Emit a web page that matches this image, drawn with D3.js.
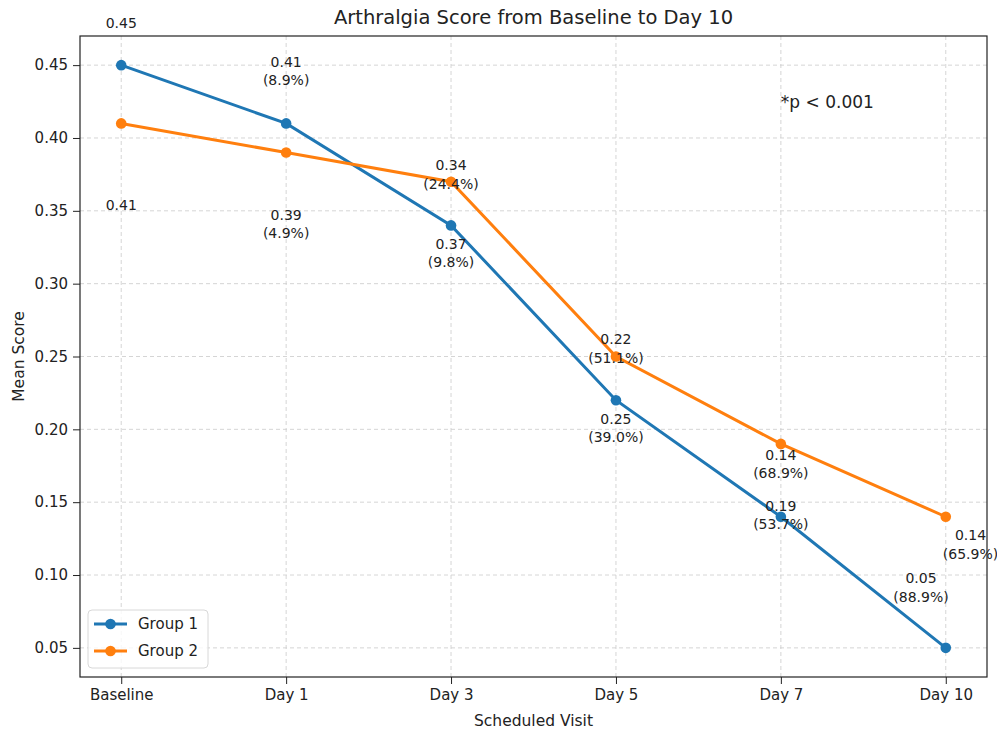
<!DOCTYPE html>
<html>
<head>
<meta charset="utf-8">
<script src="https://cdn.jsdelivr.net/npm/d3@7"></script>
<style>
  body { margin: 0; background: #fff; }
  svg { display: block; font-family: "DejaVu Sans", sans-serif; }
</style>
</head>
<body>
<div id="chart"></div>
<script>
const visits = ["Baseline", "Day 1", "Day 3", "Day 5", "Day 7", "Day 10"];
const group1 = [0.45, 0.41, 0.34, 0.22, 0.14, 0.05];
const group2 = [0.41, 0.39, 0.37, 0.25, 0.19, 0.14];
const yTicks = [0.05, 0.10, 0.15, 0.20, 0.25, 0.30, 0.35, 0.40, 0.45];

// annotation text and where it sits, in data units (visit index, score)
const labelText = ["0.45", "0.41", "0.41\n(8.9%)", "0.39\n(4.9%)", "0.34\n(24.4%)", "0.37\n(9.8%)",
  "0.22\n(51.1%)", "0.25\n(39.0%)", "0.14\n(68.9%)", "0.19\n(53.7%)", "0.14\n(65.9%)", "0.05\n(88.9%)"];
const labelX = [0, 0, 1, 1, 2, 2, 3, 3, 4, 4, 5.15, 4.85];
const labelY = [0.479, 0.354, 0.446, 0.341, 0.375, 0.321, 0.2555, 0.201, 0.176, 0.141, 0.121, 0.0915];

const width = 997, height = 733;
const margin = {top: 36, right: 10, bottom: 56, left: 80};

const svg = d3.select("#chart").append("svg")
  .attr("width", width)
  .attr("height", height);

const x = d3.scaleLinear().domain([-0.25, visits.length - 0.75]).range([margin.left, width - margin.right]);
const yExt = d3.extent(group1.concat(group2));
const pad = (yExt[1] - yExt[0]) * 0.05;
const y = d3.scaleLinear().domain([yExt[0] - pad, yExt[1] + pad]).range([height - margin.bottom, margin.top]);

const colors = ["#1f77b4", "#ff7f0e"];

// grid
svg.append("g").selectAll("line").data(yTicks).enter().append("line")
  .attr("x1", margin.left).attr("x2", width - margin.right)
  .attr("y1", d => y(d)).attr("y2", d => y(d))
  .attr("stroke", "#d0d0d0").attr("stroke-dasharray", "4,3").attr("stroke-width", 0.9);
svg.append("g").selectAll("line").data(d3.range(visits.length)).enter().append("line")
  .attr("y1", margin.top).attr("y2", height - margin.bottom)
  .attr("x1", d => x(d)).attr("x2", d => x(d))
  .attr("stroke", "#d0d0d0").attr("stroke-dasharray", "4,3").attr("stroke-width", 0.9);

// axes
const xAxis = svg.append("g")
  .attr("transform", "translate(0," + (height - margin.bottom) + ")")
  .call(d3.axisBottom(x).tickValues(d3.range(visits.length)).tickFormat(i => visits[i]).tickSize(7).tickPadding(5));
const yAxis = svg.append("g")
  .attr("transform", "translate(" + margin.left + ",0)")
  .call(d3.axisLeft(y).tickValues(yTicks).tickFormat(d3.format(".2f")).tickSize(7).tickPadding(5));
[xAxis, yAxis].forEach(a => {
  a.select(".domain").remove();
  a.selectAll("text").attr("font-size", 15).attr("fill", "#222").attr("font-family", "DejaVu Sans");
  a.selectAll("line").attr("stroke", "#222");
});

svg.append("rect")
  .attr("x", margin.left).attr("y", margin.top)
  .attr("width", width - margin.left - margin.right)
  .attr("height", height - margin.top - margin.bottom)
  .attr("fill", "none").attr("stroke", "#222").attr("stroke-width", 1.2);

// lines
const line = d3.line().x((d, i) => x(i)).y(d => y(d));
[group1, group2].forEach((series, k) => {
  svg.append("path").datum(series)
    .attr("d", line)
    .attr("fill", "none")
    .attr("stroke", colors[k])
    .attr("stroke-width", 3);
  svg.append("g").selectAll("circle").data(series).enter().append("circle")
    .attr("cx", (d, i) => x(i)).attr("cy", d => y(d))
    .attr("r", 5.3).attr("fill", colors[k]);
});

// annotations
labelText.forEach((t, i) => {
  const lines = t.split("\n");
  const lh = 18.5;
  const txt = svg.append("text")
    .attr("text-anchor", "middle")
    .attr("font-size", 14)
    .attr("fill", "#222");
  lines.forEach((l, j) => {
    txt.append("tspan")
      .attr("x", x(labelX[i]))
      .attr("y", y(labelY[i]) + (j - (lines.length - 1) / 2) * lh)
      .attr("dy", "0.35em")
      .text(l);
  });
});

svg.append("text")
  .attr("x", x(4)).attr("y", y(0.425))
  .attr("dy", "0.35em")
  .attr("font-size", 17)
  .attr("fill", "#222")
  .text("*p < 0.001");

// title and axis labels
svg.append("text")
  .attr("x", (margin.left + width - margin.right) / 2).attr("y", 24)
  .attr("text-anchor", "middle").attr("font-size", 19.5).attr("fill", "#222")
  .text("Arthralgia Score from Baseline to Day 10");
svg.append("text")
  .attr("x", (margin.left + width - margin.right) / 2).attr("y", 726)
  .attr("text-anchor", "middle").attr("font-size", 15.5).attr("fill", "#222")
  .text("Scheduled Visit");
svg.append("text")
  .attr("transform", "translate(24," + (margin.top + height - margin.bottom) / 2 + ") rotate(-90)")
  .attr("text-anchor", "middle").attr("font-size", 15.5).attr("fill", "#222")
  .text("Mean Score");

// legend
const legend = svg.append("g").attr("transform", "translate(88,610)");
legend.append("rect")
  .attr("width", 120).attr("height", 58).attr("rx", 4)
  .attr("fill", "#fff").attr("fill-opacity", 0.8)
  .attr("stroke", "#d8d8d8");
["Group 1", "Group 2"].forEach((name, k) => {
  const g = legend.append("g").attr("transform", "translate(0," + (14 + k * 27) + ")");
  g.append("line").attr("x1", 6).attr("x2", 39).attr("stroke", colors[k]).attr("stroke-width", 3);
  g.append("circle").attr("cx", 22.5).attr("r", 5.3).attr("fill", colors[k]);
  g.append("text").attr("x", 50).attr("dy", "0.35em").attr("font-size", 15).attr("fill", "#222").text(name);
});
</script>
</body>
</html>
